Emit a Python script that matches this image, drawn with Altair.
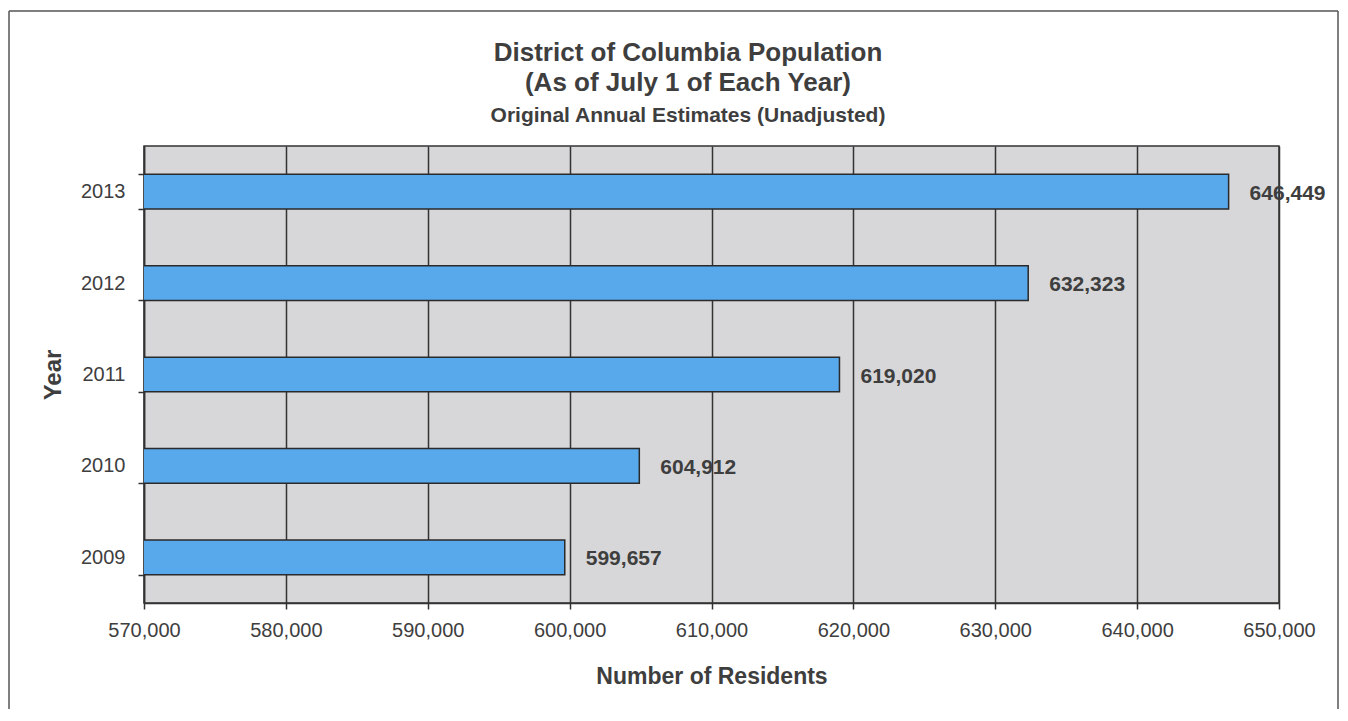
import altair as alt
import pandas as pd

years = [2013, 2012, 2011, 2010, 2009]
residents = [646449, 632323, 619020, 604912, 599657]
value_labels = ["646,449", "632,323", "619,020", "604,912", "599,657"]
x_ticks = [570000, 580000, 590000, 600000, 610000, 620000, 630000, 640000, 650000]
title_lines = [
    "District of Columbia Population",
    "(As  of July 1 of Each  Year)",
    "Original Annual  Estimates  (Unadjusted)",
]

df = pd.DataFrame({"year": years, "residents": residents, "label": value_labels})

FONT = "Liberation Sans"
TXT = "#3e3e3e"
W, H = 1135, 457

x_enc = alt.X(
    "residents:Q",
    scale=alt.Scale(domain=[570000, 650000], zero=False, nice=False),
    axis=alt.Axis(
        values=x_ticks, format=",d", title="Number of Residents",
        labelFontSize=20, labelPadding=11, labelColor=TXT, labelFont=FONT,
        labelFlush=False, labelOverlap=False,
        titleFontSize=23, titleFontWeight="bold", titleColor=TXT, titleFont=FONT,
        titlePadding=25, tickSize=6, tickColor="#333", tickWidth=1.5,
        domainColor="#333", domainWidth=1.5,
        grid=True, gridColor="#333", gridWidth=1.5,
    ),
)
y_enc = alt.Y(
    "year:O", sort="descending",
    scale=alt.Scale(paddingInner=0.62, paddingOuter=0.31),
    axis=alt.Axis(
        title="Year", labelFontSize=20, labelPadding=13, labelColor=TXT, labelFont=FONT,
        titleFontSize=24, titleFontWeight="bold", titleColor=TXT, titleFont=FONT,
        titlePadding=15, tickSize=6, tickColor="#333", tickWidth=1.5, tickBand="extent",
        domainColor="#333", domainWidth=1.5, grid=False,
    ),
)

bars = alt.Chart(df).mark_bar(
    color="#58a8ec", stroke="#2a2a2a", strokeWidth=1.5, clip=True
).encode(x=x_enc, y=y_enc)

labels = alt.Chart(df).mark_text(
    align="left", baseline="middle", dx=21, dy=2, fontSize=21, fontWeight="bold",
    color=TXT, font=FONT,
).encode(x=alt.X("residents:Q"), y=alt.Y("year:O", sort="descending"), text="label:N")

one = alt.Data(values=[{"k": 1}])

title_layers = []
for txt, yy, fs in zip(title_lines, [-85, -55, -24], [26, 26, 21]):
    title_layers.append(
        alt.Chart(one).mark_text(
            text=txt, align="center", baseline="alphabetic", fontSize=fs,
            fontWeight="bold", color=TXT, font=FONT,
        ).encode(x=alt.value(544), y=alt.value(yy))
    )

frame_top = alt.Chart(one).mark_rule(color="#555", strokeWidth=1.5).encode(
    x=alt.value(-135), x2=alt.value(1194), y=alt.value(-135))
frame_left = alt.Chart(one).mark_rule(color="#555", strokeWidth=1.5).encode(
    x=alt.value(-135), y=alt.value(-135), y2=alt.value(563))
frame_right = alt.Chart(one).mark_rule(color="#555", strokeWidth=1.5).encode(
    x=alt.value(1194), y=alt.value(-135), y2=alt.value(563))

chart = alt.layer(
    bars, labels, *title_layers, frame_top, frame_left, frame_right
).properties(
    width=W, height=H,
    padding={"left": 0, "top": 2, "right": 0, "bottom": 0},
    background="white",
).configure_view(
    fill="#d7d7d9", stroke="#333", strokeWidth=1.5
)

chart.save("out.html", embed_options={"renderer": "svg", "actions": False})
